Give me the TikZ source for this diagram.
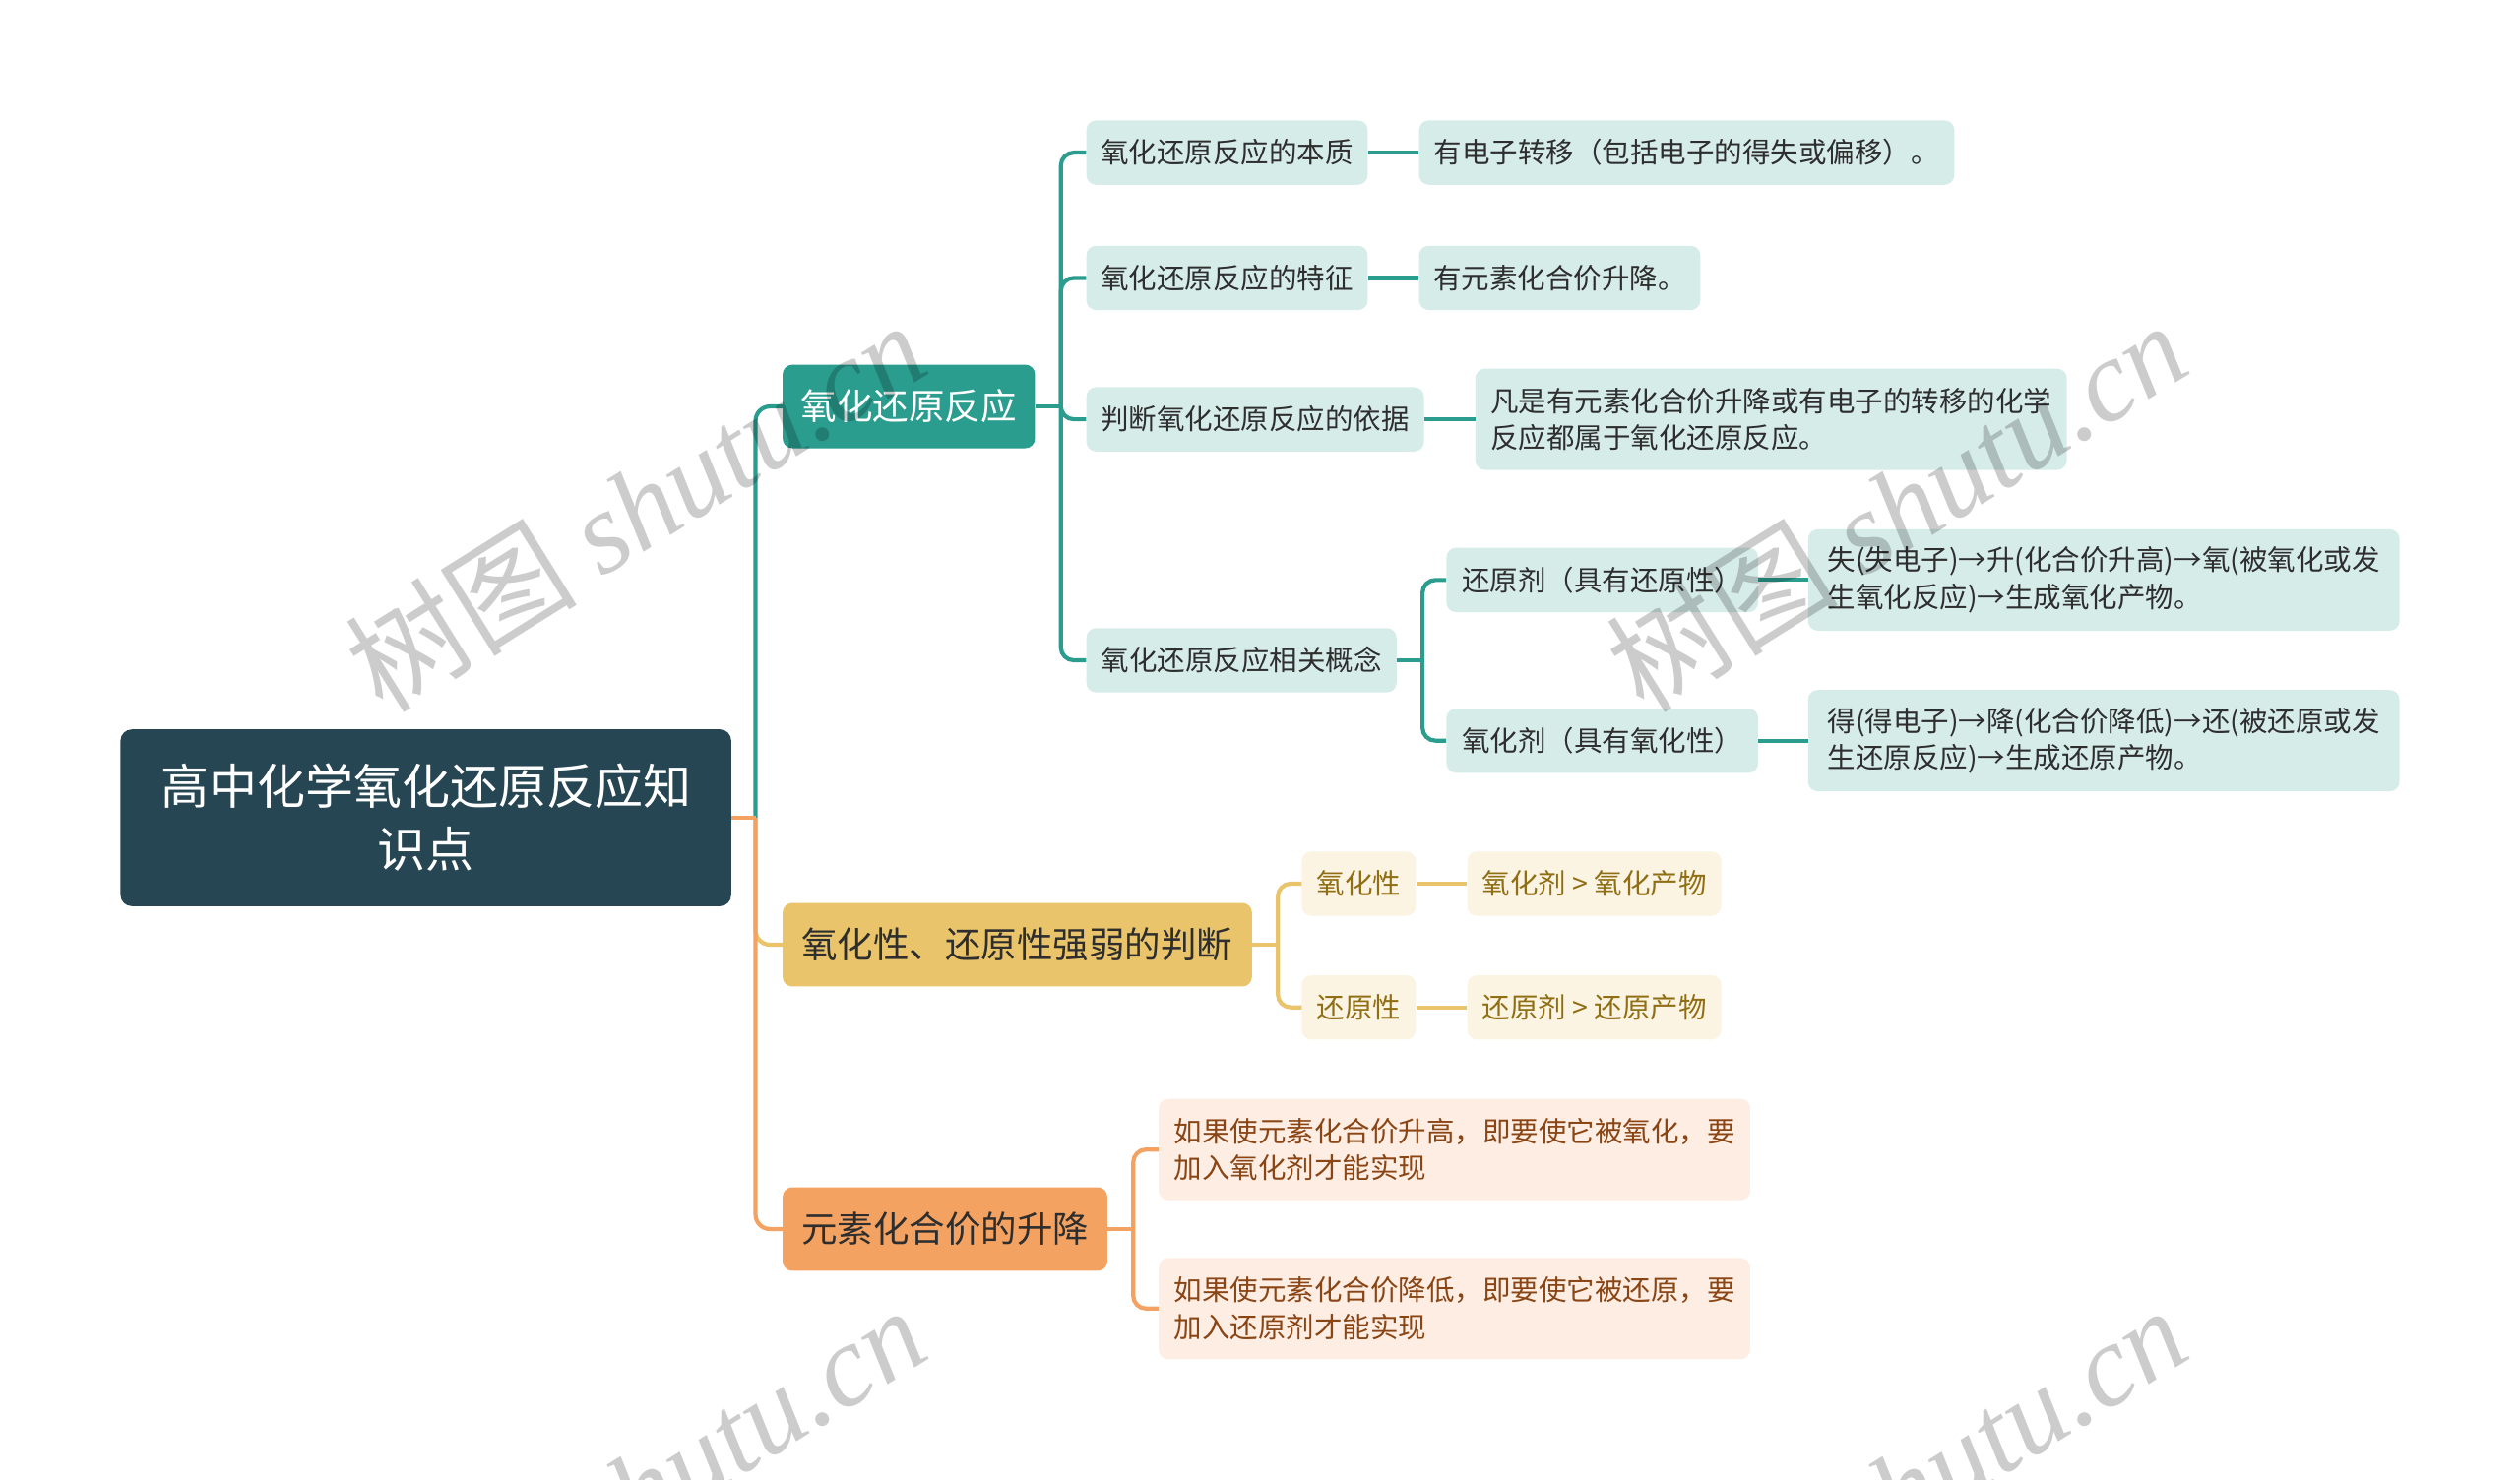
\documentclass[tikz,border=0pt]{standalone}
\usepackage{fontspec}
\setmainfont{Noto Sans CJK SC}
\newfontfamily\wmlatin{Liberation Serif}
\usetikzlibrary{calc}
\newdimen\upx \upx=1.6327pt
\newcommand\froot{\fontsize{49pt}{64pt}\selectfont}
\newcommand\fmid{\fontsize{36.5pt}{44pt}\selectfont}
\newcommand\fsm{\fontsize{28.5pt}{37.5pt}\selectfont}
\definecolor{rootc}{HTML}{274653}
\definecolor{tealc}{HTML}{2A9D8F}
\definecolor{yelc}{HTML}{E9C46A}
\definecolor{orgc}{HTML}{F4A261}
\definecolor{ltteal}{HTML}{D6ECE9}
\definecolor{ltyel}{HTML}{FBF4E2}
\definecolor{ltorg}{HTML}{FDEDE3}
\definecolor{darktxt}{HTML}{2E2E2E}
\definecolor{yeltxt}{HTML}{8F6E14}
\definecolor{orgtxt}{HTML}{8A4515}
\tikzset{
  basebox/.style={rounded corners=6\upx, inner sep=0pt, align=left},
  rootbox/.style={basebox, fill=rootc, text=white, font=\froot, align=center,
    minimum width=380\upx, minimum height=110\upx, rounded corners=7\upx},
  lvone/.style={basebox, font=\fmid, minimum height=52\upx},
  tbox/.style={basebox, fill=ltteal, text=darktxt, font=\fsm, minimum height=40\upx},
  tboxw/.style={tbox, minimum height=63\upx},
  ybox/.style={basebox, fill=ltyel, text=yeltxt, font=\fsm, minimum height=40\upx},
  obox/.style={basebox, fill=ltorg, text=orgtxt, font=\fsm, minimum height=63\upx},
  conn/.style={line width=4.2pt},
  wm/.style={text=black, text opacity=0.2, font=\fontsize{118pt}{118pt}\selectfont, rotate=32}
}
\begin{document}
\begin{tikzpicture}[x=1\upx,y=-1\upx]
\useasboundingbox (0,0) rectangle (1568,921);
\fill[white] (0,0) rectangle (1568,921);
% nodes
\node[rootbox] (root) at (265,509) {高中化学氧化还原反应知\\识点};
\node[lvone, fill=tealc, text=white, minimum width=157\upx] (b1) at (565.5,253) {氧化还原反应};
\node[lvone, fill=yelc, text=darktxt, minimum width=292\upx] (b2) at (633,588) {氧化性、还原性强弱的判断};
\node[lvone, fill=orgc, text=darktxt, minimum width=202\upx] (b3) at (588,765) {元素化合价的升降};

\node[tbox, minimum width=175\upx] (c1) at (763.5,95) {氧化还原反应的本质};
\node[tbox, minimum width=175\upx] (c2) at (763.5,173) {氧化还原反应的特征};
\node[tbox, minimum width=210\upx] (c3) at (781,261) {判断氧化还原反应的依据};
\node[tbox, minimum width=193\upx] (c4) at (772.5,411) {氧化还原反应相关概念};

\node[tbox, minimum width=333\upx] (d1) at (1049.5,95) {有电子转移（包括电子的得失或偏移）。};
\node[tbox, minimum width=175\upx] (d2) at (970.5,173) {有元素化合价升降。};
\node[tboxw, minimum width=368\upx] (d3) at (1102,261) {凡是有元素化合价升降或有电子的转移的化学\\反应都属于氧化还原反应。};

\node[tbox, minimum width=194\upx] (e1) at (997,361) {还原剂（具有还原性）};
\node[tbox, minimum width=194\upx] (e2) at (997,461) {氧化剂（具有氧化性）};
\node[tboxw, minimum width=368\upx] (f1) at (1309,361) {失(失电子)→升(化合价升高)→氧(被氧化或发\\生氧化反应)→生成氧化产物。};
\node[tboxw, minimum width=368\upx] (f2) at (1309,461) {得(得电子)→降(化合价降低)→还(被还原或发\\生还原反应)→生成还原产物。};

\node[ybox, minimum width=71\upx] (g1) at (845.5,550) {氧化性};
\node[ybox, minimum width=71\upx] (g2) at (845.5,627) {还原性};
\node[ybox, minimum width=158\upx] (h1) at (992,550) {氧化剂 > 氧化产物};
\node[ybox, minimum width=158\upx] (h2) at (992,627) {还原剂 > 还原产物};

\node[obox, minimum width=368\upx] (k1) at (905,715.5) {如果使元素化合价升高，即要使它被氧化，要\\加入氧化剂才能实现};
\node[obox, minimum width=368\upx] (k2) at (905,814.5) {如果使元素化合价降低，即要使它被还原，要\\加入还原剂才能实现};

% spine coordinates
\coordinate (s0) at ($(root.east)+(15,0)$);
\coordinate (s1) at ($(b1.east)+(16,0)$);
\coordinate (s4) at ($(c4.east)+(16,0)$);
\coordinate (s2) at ($(b2.east)+(16,0)$);
\coordinate (s3) at ($(b3.east)+(16,0)$);

% root connectors
\draw[conn, tealc, rounded corners=9\upx] (s0) |- (b1.west);
\draw[conn, yelc, rounded corners=9\upx] (s0) |- (b2.west);
\draw[conn, orgc, rounded corners=9\upx] (s0) |- (b3.west);
\draw[conn, orgc] (root.east) -- (s0);

% teal branch
\draw[conn, tealc] (b1.east) -- (s1);
\foreach \n in {c1,c2,c3,c4} \draw[conn, tealc, rounded corners=8\upx] (s1) |- (\n.west);
\draw[conn, tealc] (c1.east) -- (d1.west);
\draw[conn, tealc] (c2.east) -- (d2.west);
\draw[conn, tealc] (c3.east) -- (d3.west);
\draw[conn, tealc] (c4.east) -- (s4);
\foreach \n in {e1,e2} \draw[conn, tealc, rounded corners=8\upx] (s4) |- (\n.west);
\draw[conn, tealc] (e1.east) -- (f1.west);
\draw[conn, tealc] (e2.east) -- (f2.west);

% yellow branch
\draw[conn, yelc] (b2.east) -- (s2);
\foreach \n in {g1,g2} \draw[conn, yelc, rounded corners=8\upx] (s2) |- (\n.west);
\draw[conn, yelc] (g1.east) -- (h1.west);
\draw[conn, yelc] (g2.east) -- (h2.west);

% orange branch
\draw[conn, orgc] (b3.east) -- (s3);
\foreach \n in {k1,k2} \draw[conn, orgc, rounded corners=8\upx] (s3) |- (\n.west);

% watermarks
\begin{scope}
\clip (0,0) rectangle (1568,921);
\node[wm] (w1) at (395,315) {树图 {\wmlatin\itshape shutu.cn}};
\node[wm] (w2) at (1180,315) {树图 {\wmlatin\itshape shutu.cn}};
\node[wm] (w3) at (395,928) {树图 {\wmlatin\itshape shutu.cn}};
\node[wm] (w4) at (1180,928) {树图 {\wmlatin\itshape shutu.cn}};
\end{scope}
\end{tikzpicture}
\end{document}
